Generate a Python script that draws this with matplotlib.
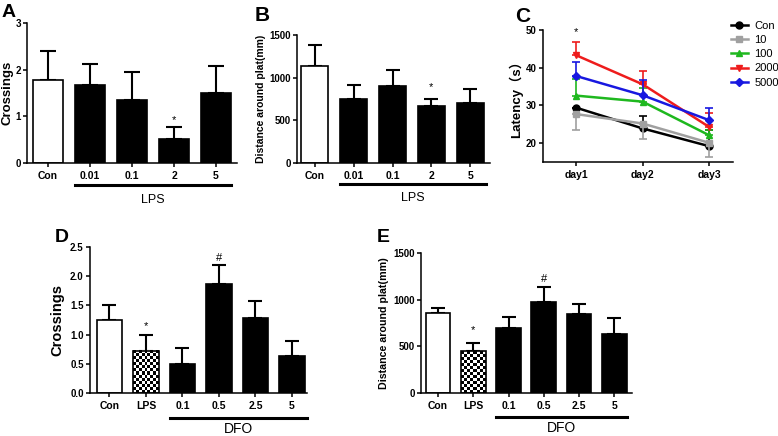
import numpy as np
import matplotlib
matplotlib.use("Agg")
import matplotlib.pyplot as plt

plt.rcParams["font.family"] = ["Liberation Sans", "Noto Sans CJK SC", "DejaVu Sans"]
plt.rcParams["axes.linewidth"] = 1.1
plt.rcParams["xtick.major.width"] = 1.1
plt.rcParams["ytick.major.width"] = 1.1
plt.rcParams["xtick.major.size"] = 3
plt.rcParams["ytick.major.size"] = 3
plt.rcParams["ytick.major.pad"] = 1.5
plt.rcParams["xtick.major.pad"] = 2.5

# ---- data ----
lps_groups = ["Con", "0.01", "0.1", "2", "5"]
a_mean = [1.78, 1.67, 1.35, 0.52, 1.50]
a_top = [2.39, 2.12, 1.96, 0.77, 2.07]
b_mean = [1140, 746, 899, 663, 702]
b_top = [1378, 911, 1088, 746, 872]

days = ["day1", "day2", "day3"]
c_series = ["Con", "10", "100", "2000", "5000"]
c_con = [29.4, 23.9, 19.2]
c_con_err = [29.4, 27.3, 23.4]
c_10 = [27.7, 25.2, 20.1]
c_10_err = [23.4, 21.0, 16.4]
c_100 = [32.6, 31.0, 22.1]
c_100_err = [36.9, 34.5, 23.4]
c_2000 = [43.3, 35.6, 24.3]
c_2000_err = [46.7, 39.1, 28.0]
c_5000 = [37.8, 32.7, 26.1]
c_5000_err = [41.6, 36.7, 29.4]

dfo_groups = ["Con", "LPS", "0.1", "0.5", "2.5", "5"]
d_mean = [1.25, 0.72, 0.505, 1.86, 1.29, 0.63]
d_top = [1.50, 0.99, 0.763, 2.20, 1.58, 0.89]
e_mean = [861, 449, 700, 980, 843, 632]
e_top = [908, 538, 811, 1141, 954, 800]

fig = plt.figure(figsize=(7.78, 4.36), dpi=100)


def px_axes(l, r, b, t):
    W, H = 778, 436
    return fig.add_axes([l / W, 1 - b / H, (r - l) / W, (b - t) / H])


def style(ax):
    ax.spines["top"].set_visible(False)
    ax.spines["right"].set_visible(False)
    for lab in ax.get_xticklabels():
        lab.set_fontweight("bold")
        lab.set_fontsize(7.5)
    for lab in ax.get_yticklabels():
        lab.set_fontweight("bold")
        lab.set_fontsize(7)


def ylabel_at(ax, text, right_px, fs):
    # rotated label: its anchor is the right edge on screen
    bb = ax.get_window_extent()
    ax.set_ylabel(text, fontsize=fs, fontweight="bold")
    ax.yaxis.set_label_coords((right_px - bb.x0) / bb.width, 0.5)


def checker(ax, bar, cell=3):
    x0, y0 = bar.get_x(), bar.get_y()
    w, h = bar.get_width(), bar.get_height()
    p0 = ax.transData.transform((x0, y0))
    p1 = ax.transData.transform((x0 + w, y0 + h))
    nx = max(1, int(round(abs(p1[0] - p0[0]) / cell)))
    ny = max(1, int(round(abs(p1[1] - p0[1]) / cell)))
    img = np.indices((ny, nx)).sum(axis=0) % 2
    ax.imshow(img, cmap="gray", extent=(x0, x0 + w, y0, y0 + h), aspect="auto",
              interpolation="nearest", zorder=0.9)


def bar_panel(ax, groups, mean, top, xlim, ylim, yticks, capsize, checkered=()):
    x = np.arange(len(groups))
    colors = ["white" if g == "Con" else "black" for g in groups]
    ax.set_xlim(*xlim)
    ax.set_ylim(*ylim)
    up = np.array(top) - np.array(mean)
    ax.errorbar(x, mean, yerr=[np.zeros(len(x)), up], fmt="none", ecolor="black",
                elinewidth=1.5, capsize=capsize, capthick=1.5, zorder=0.5)
    bars = ax.bar(x, mean, width=0.7, color=colors, edgecolor="black", linewidth=1.2, zorder=1)
    for i in checkered:
        bars[i].set_facecolor("none")
        checker(ax, bars[i])
    ax.set_xlim(*xlim)
    ax.set_ylim(*ylim)
    ax.set_xticks(x)
    ax.set_xticklabels(groups)
    ax.set_yticks(yticks)
    style(ax)
    return bars


def underline(ax, x0, x1, ypx, label, tpx, fs):
    h = ax.get_window_extent().height
    ax.plot([x0, x1], [-ypx / h, -ypx / h], color="black", lw=2.2,
            transform=ax.get_xaxis_transform(), clip_on=False)
    ax.text((x0 + x1) / 2, -tpx / h, label, transform=ax.get_xaxis_transform(),
            ha="center", va="center", fontsize=fs)


# ---- A ----
axA = px_axes(27, 237, 163, 23)
bar_panel(axA, lps_groups, a_mean, a_top, (-0.5, 4.5), (0, 3), [0, 1, 2, 3], 6)
ylabel_at(axA, "Crossings", 14, 9.5)
axA.text(3, 0.92, "*", ha="center", va="center", fontsize=8)
underline(axA, 0.65, 4.35, 22, "LPS", 37, 9)

# ---- B ----
axB = px_axes(297, 490, 163, 35)
bar_panel(axB, lps_groups, b_mean, b_top, (-0.46, 4.51), (0, 1500), [0, 500, 1000, 1500], 5)
ylabel_at(axB, "Distance around plat(mm)", 266, 7.5)
axB.text(3, 890, "*", ha="center", va="center", fontsize=8)
underline(axB, 0.65, 4.4, 21, "LPS", 35, 9)

# ---- C ----
axC = px_axes(543, 733, 162, 30)
xd = np.arange(len(days))
c_vals = [c_con, c_10, c_100, c_2000, c_5000]
c_errs = [c_con_err, c_10_err, c_100_err, c_2000_err, c_5000_err]
c_colors = ["black", "#a0a0a0", "#1fb81f", "#ee1c1c", "#1818e0"]
c_markers = ["o", "s", "^", "v", "D"]
c_msize = [5, 5, 5, 5, 4.5]
for vals, errs, col, mk, ms, lab in zip(c_vals, c_errs, c_colors, c_markers, c_msize, c_series):
    v = np.array(vals)
    e = np.array(errs)
    lo = np.where(e < v, v - e, 0)
    hi = np.where(e > v, e - v, 0)
    axC.errorbar(xd, v, yerr=[lo, hi], fmt="none", ecolor=col, elinewidth=1.2,
                 capsize=3, capthick=1.2)
    axC.plot(xd, v, color=col, marker=mk, markersize=ms, lw=1.8, label=lab)
axC.set_xlim(-0.5, 2.36)
axC.set_ylim(15, 50)
axC.set_xticks(xd)
axC.set_xticklabels(days)
axC.set_yticks([20, 30, 40, 50])
ylabel_at(axC, "Latency（s）", 523, 9.5)
axC.text(0, 49.5, "*", ha="center", va="center", fontsize=8)
style(axC)
axC.legend(loc="upper left", bbox_to_anchor=(0.99, 1.07), frameon=False, fontsize=8,
           handlelength=1.5, handletextpad=0.6, labelspacing=0.38, borderpad=0,
           borderaxespad=0)

# ---- D ----
axD = px_axes(90, 307, 393, 247)
bar_panel(axD, dfo_groups, d_mean, d_top, (-0.53, 5.41), (0, 2.5),
          [0, 0.5, 1.0, 1.5, 2.0, 2.5], 5, checkered=[1])
axD.set_yticklabels(["0.0", "0.5", "1.0", "1.5", "2.0", "2.5"])
for lab in axD.get_yticklabels():
    lab.set_fontweight("bold")
    lab.set_fontsize(7)
ylabel_at(axD, "Crossings", 64, 10.5)
axD.text(1, 1.15, "*", ha="center", va="center", fontsize=8)
axD.text(3, 2.31, "#", ha="center", va="center", fontsize=8)
underline(axD, 1.65, 5.4, 25, "DFO", 36, 10)

# ---- E ----
axE = px_axes(421, 632, 393, 253)
bar_panel(axE, dfo_groups, e_mean, e_top, (-0.48, 5.5), (0, 1500),
          [0, 500, 1000, 1500], 5, checkered=[1])
ylabel_at(axE, "Distance around plat(mm)", 389, 7.7)
axE.text(1, 675, "*", ha="center", va="center", fontsize=8)
axE.text(3, 1225, "#", ha="center", va="center", fontsize=8)
underline(axE, 1.65, 5.35, 24, "DFO", 35, 10)

# panel letters
for lab, xp, yp, fs in [("A", 2, 17, 14), ("B", 255, 21, 15), ("C", 515, 22, 15),
                        ("D", 55, 242, 14), ("E", 377, 242, 14)]:
    fig.text(xp / 778, 1 - yp / 436, lab, fontsize=fs, fontweight="bold", va="baseline")

fig.savefig("out.png", dpi=100)
